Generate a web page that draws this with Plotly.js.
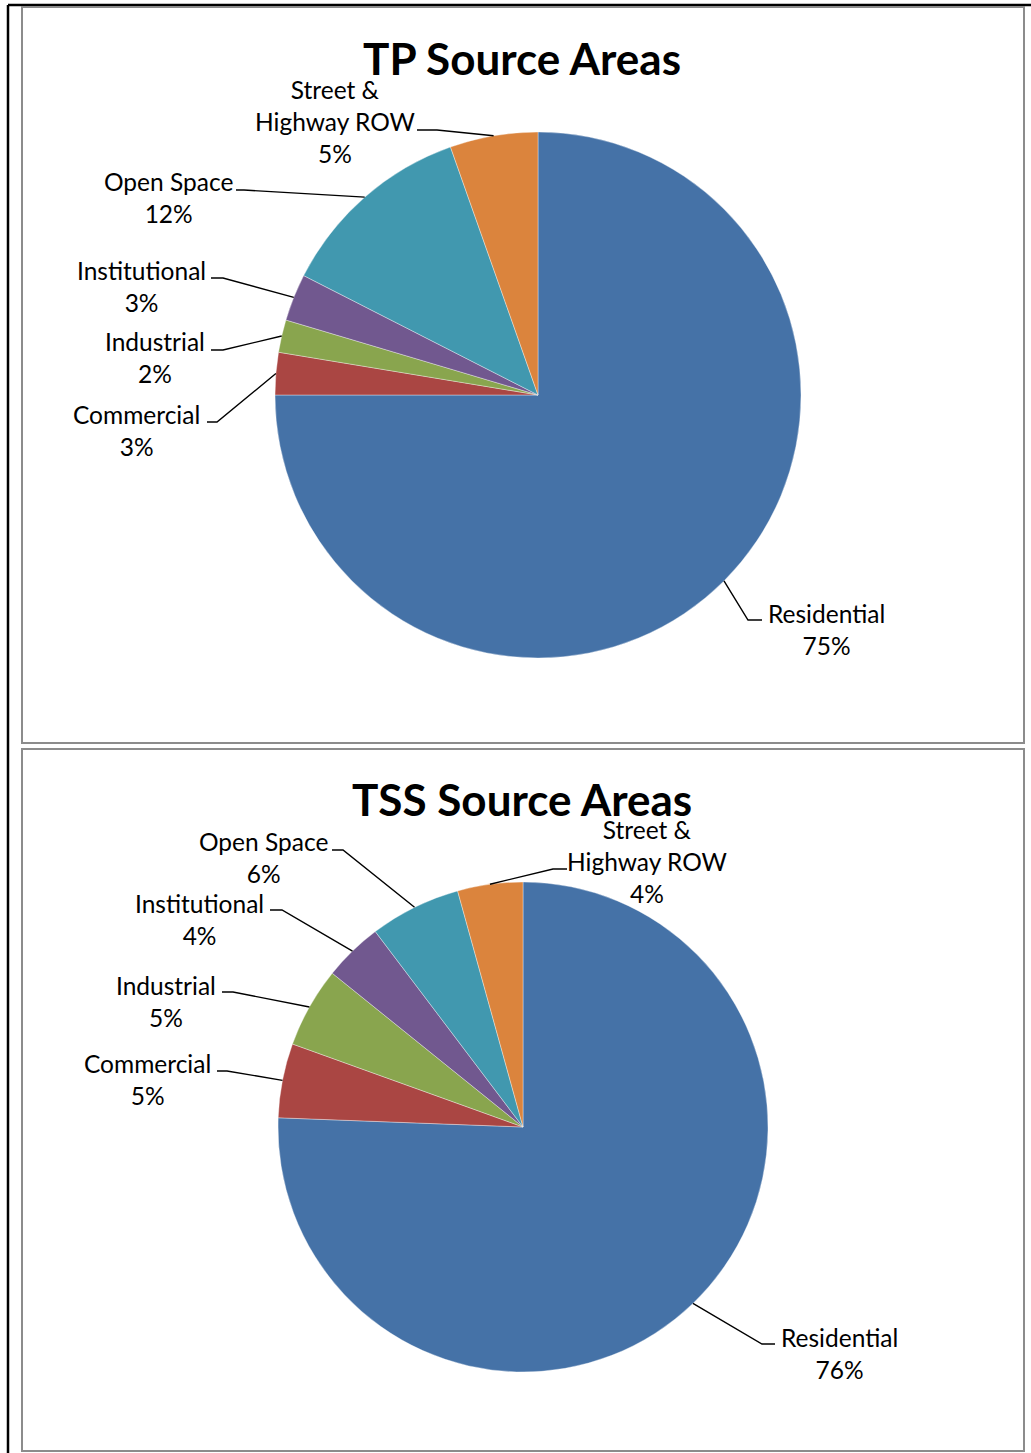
<!DOCTYPE html>
<html>
<head>
<meta charset="utf-8">
<script src="https://cdn.plot.ly/plotly-3.0.1.min.js"></script>
<style>
  html, body { margin: 0; padding: 0; background: #ffffff; }
  #chart { width: 1031px; height: 1453px; }
</style>
</head>
<body>
<div id="chart"></div>
<script>
// ---- data ----
const categories = ['Residential', 'Commercial', 'Industrial', 'Institutional', 'Open Space', 'Street & Highway ROW'];
const labelLines = ['Residential', 'Commercial', 'Industrial', 'Institutional', 'Open Space', 'Street &<br>Highway ROW'];
const tpValues  = [75.0, 2.6, 2.0, 2.9, 12.1, 5.4];
const tssValues = [75.6, 4.9, 5.3, 3.9, 6.0, 4.3];
const chartTitles = ['TP Source Areas', 'TSS Source Areas'];
const sliceColors = ['#4572A7', '#AA4643', '#89A54E', '#71588F', '#4198AF', '#DB843D'];

// ---- layout helpers (pixels -> paper) ----
const W = 1031, H = 1453;
const px = x => x / W;
const py = y => 1 - y / H;
const FONT = 'Lato, "Open Sans", sans-serif';

// per-chart geometry: pie centre/radius, title position, label block centres, leader elbows
const charts = [
  {
    values: tpValues, title: chartTitles[0],
    cx: 538, cy: 395, r: 263, titleX: 522, titleY: 58,
    labels: [
      {x: 826, y: 630, elbow: [748, 620], tail: [762, 620]},
      {x: 136, y: 431, elbow: [217, 422], tail: [207, 422]},
      {x: 155, y: 358, elbow: [223, 350], tail: [211, 350]},
      {x: 141, y: 286, elbow: [223, 278], tail: [211, 278]},
      {x: 168, y: 198, elbow: [244, 190], tail: [236, 190]},
      {x: 335, y: 121, elbow: [437, 130], tail: [417, 130]}
    ]
  },
  {
    values: tssValues, title: chartTitles[1],
    cx: 523, cy: 1127, r: 245, titleX: 522, titleY: 799,
    labels: [
      {x: 839, y: 1353, elbow: [762, 1344], tail: [775, 1344]},
      {x: 147, y: 1079, elbow: [227, 1071], tail: [217, 1071]},
      {x: 166, y: 1001, elbow: [233, 992], tail: [222, 992]},
      {x: 199, y: 919, elbow: [282, 910], tail: [270, 910]},
      {x: 263, y: 858, elbow: [343, 850], tail: [332, 850]},
      {x: 647, y: 862, elbow: [553, 869], tail: [567, 869]}
    ]
  }
];

const data = [];
const annotations = [];
const shapes = [];

// frame lines
shapes.push({type: 'line', xref: 'paper', yref: 'paper', x0: px(8), x1: px(W), y0: py(5), y1: py(5), line: {color: '#000', width: 2.5}});
shapes.push({type: 'line', xref: 'paper', yref: 'paper', x0: px(8), x1: px(8), y0: py(5), y1: py(H), line: {color: '#000', width: 2.5}});
shapes.push({type: 'rect', xref: 'paper', yref: 'paper', x0: px(22), x1: px(1024), y0: py(7), y1: py(743), line: {color: '#8c8c8c', width: 2}});
shapes.push({type: 'rect', xref: 'paper', yref: 'paper', x0: px(22), x1: px(1024), y0: py(749), y1: py(1451), line: {color: '#8c8c8c', width: 2}});

charts.forEach(c => {
  const total = c.values.reduce((a, b) => a + b, 0);
  data.push({
    type: 'pie',
    labels: categories,
    values: c.values,
    sort: false,
    direction: 'clockwise',
    rotation: 0,
    textinfo: 'none',
    hoverinfo: 'label+percent',
    marker: {colors: sliceColors, line: {color: 'rgba(255,255,255,0.6)', width: 0.6}},
    domain: {x: [px(c.cx - c.r), px(c.cx + c.r)], y: [py(c.cy + c.r), py(c.cy - c.r)]},
    showlegend: false
  });
  annotations.push({
    xref: 'paper', yref: 'paper', x: px(c.titleX), y: py(c.titleY),
    xanchor: 'center', yanchor: 'middle', showarrow: false,
    text: '<b>' + c.title + '</b>',
    font: {family: FONT, size: 44, color: '#000'}
  });
  let cum = 0;
  c.values.forEach((v, i) => {
    const mid = (cum + v / 2) / total * 2 * Math.PI;
    cum += v;
    const ex = c.cx + c.r * Math.sin(mid);
    const ey = c.cy - c.r * Math.cos(mid);
    const L = c.labels[i];
    const pct = Math.round(v / total * 100) + '%';
    annotations.push({
      xref: 'paper', yref: 'paper', x: px(L.x), y: py(L.y),
      xanchor: 'center', yanchor: 'middle', showarrow: false, align: 'center',
      text: labelLines[i] + '<br>' + pct,
      font: {family: FONT, size: 24.5, color: '#000'}
    });
    shapes.push({
      type: 'path', xref: 'paper', yref: 'paper',
      path: 'M' + px(ex) + ',' + py(ey) + ' L' + px(L.elbow[0]) + ',' + py(L.elbow[1]) + ' L' + px(L.tail[0]) + ',' + py(L.tail[1]),
      line: {color: '#000', width: 1.4}
    });
  });
});

Plotly.newPlot('chart', data, {
  width: W, height: H,
  margin: {l: 0, r: 0, t: 0, b: 0},
  paper_bgcolor: '#ffffff',
  showlegend: false,
  annotations: annotations,
  shapes: shapes
}, {displayModeBar: false, staticPlot: true});
</script>
</body>
</html>
